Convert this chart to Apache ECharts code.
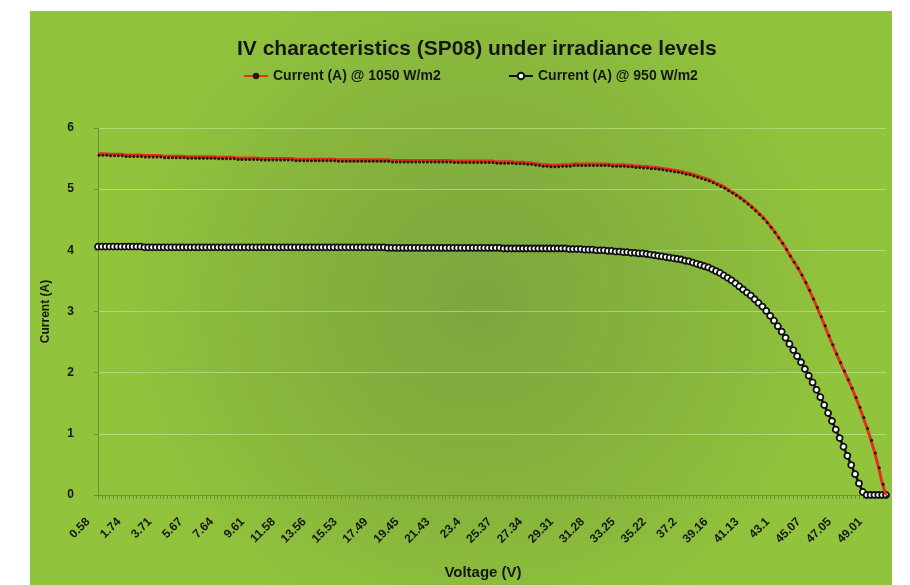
<!DOCTYPE html>
<html>
<head>
<meta charset="utf-8">
<script src="https://cdn.jsdelivr.net/npm/echarts@6/dist/echarts.min.js"></script>
<style>
html,body{margin:0;padding:0;background:#fff;}
#chart{width:910px;height:585px;}
</style>
</head>
<body>
<div id="chart"></div>
<script>
const chartTitle = 'IV characteristics (SP08) under irradiance levels';
const seriesNames = ['Current (A) @ 1050 W/m2', 'Current (A) @ 950 W/m2'];
const tickLabels = ['0.58','1.74','3.71','5.67','7.64','9.61','11.58','13.56','15.53','17.49','19.45','21.43','23.4','25.37','27.34','29.31','31.28','33.25','35.22','37.2','39.16','41.13','43.1','45.07','47.05','49.01'];
const voltage = [
'0.58','0.72','0.87','1.01','1.16','1.30','1.45','1.59',
'1.74','1.99','2.23','2.48','2.73','2.97','3.22','3.46',
'3.71','3.96','4.20','4.45','4.69','4.94','5.18','5.43',
'5.67','5.92','6.16','6.41','6.66','6.90','7.15','7.39',
'7.64','7.89','8.13','8.38','8.63','8.87','9.12','9.36',
'9.61','9.86','10.10','10.35','10.60','10.84','11.09','11.33',
'11.58','11.83','12.08','12.32','12.57','12.82','13.07','13.31',
'13.56','13.81','14.05','14.30','14.55','14.79','15.04','15.28',
'15.53','15.78','16.02','16.27','16.51','16.76','17.00','17.25',
'17.49','17.74','17.98','18.23','18.47','18.72','18.96','19.21',
'19.45','19.70','19.95','20.19','20.44','20.69','20.94','21.18',
'21.43','21.68','21.92','22.17','22.42','22.66','22.91','23.15',
'23.4','23.65','23.89','24.14','24.39','24.63','24.88','25.12',
'25.37','25.62','25.86','26.11','26.36','26.60','26.85','27.09',
'27.34','27.59','27.83','28.08','28.33','28.57','28.82','29.06',
'29.31','29.56','29.80','30.05','30.30','30.54','30.79','31.03',
'31.28','31.53','31.77','32.02','32.27','32.51','32.76','33.00',
'33.25','33.50','33.74','33.99','34.24','34.48','34.73','34.97',
'35.22','35.47','35.72','35.96','36.21','36.46','36.71','36.95',
'37.2','37.45','37.69','37.94','38.18','38.43','38.67','38.92',
'39.16','39.41','39.65','39.90','40.15','40.39','40.64','40.88',
'41.13','41.38','41.62','41.87','42.12','42.36','42.61','42.85',
'43.1','43.35','43.59','43.84','44.09','44.33','44.58','44.82',
'45.07','45.32','45.57','45.81','46.06','46.31','46.56','46.80',
'47.05','47.30','47.54','47.79','48.03','48.28','48.52','48.77',
'49.01','49.26','49.50','49.75','49.99'
];
const current1050 = [
5.58,5.58,5.58,5.57,5.57,5.57,5.57,5.56,5.56,5.56,
5.56,5.56,5.55,5.55,5.55,5.55,5.55,5.54,5.54,5.54,
5.54,5.54,5.54,5.53,5.53,5.53,5.53,5.53,5.53,5.53,
5.53,5.52,5.52,5.52,5.52,5.52,5.51,5.51,5.51,5.51,
5.51,5.51,5.50,5.50,5.50,5.50,5.50,5.50,5.50,5.50,
5.50,5.49,5.49,5.49,5.49,5.49,5.49,5.49,5.49,5.49,
5.49,5.49,5.48,5.48,5.48,5.48,5.48,5.48,5.48,5.48,
5.48,5.48,5.48,5.48,5.48,5.48,5.47,5.47,5.47,5.47,
5.47,5.47,5.47,5.47,5.47,5.47,5.47,5.47,5.47,5.47,
5.47,5.47,5.46,5.46,5.46,5.46,5.46,5.46,5.46,5.46,
5.46,5.46,5.46,5.45,5.45,5.45,5.45,5.45,5.44,5.44,
5.44,5.43,5.43,5.42,5.41,5.40,5.40,5.39,5.39,5.39,
5.40,5.40,5.40,5.41,5.41,5.41,5.41,5.41,5.41,5.41,
5.41,5.41,5.41,5.40,5.40,5.40,5.40,5.39,5.39,5.38,
5.38,5.37,5.37,5.36,5.36,5.35,5.34,5.33,5.32,5.31,
5.30,5.29,5.27,5.26,5.24,5.22,5.20,5.18,5.16,5.13,
5.10,5.07,5.04,5.00,4.96,4.92,4.88,4.83,4.78,4.73,
4.67,4.61,4.55,4.48,4.40,4.32,4.23,4.14,4.04,3.93,
3.83,3.73,3.62,3.50,3.37,3.23,3.09,2.94,2.79,2.63,
2.48,2.33,2.19,2.05,1.91,1.77,1.62,1.46,1.29,1.11,
0.92,0.71,0.47,0.20,0.00
];
const current950 = [
4.06,4.06,4.06,4.06,4.06,4.06,4.06,4.06,4.06,4.06,
4.06,4.06,4.05,4.05,4.05,4.05,4.05,4.05,4.05,4.05,
4.05,4.05,4.05,4.05,4.05,4.05,4.05,4.05,4.05,4.05,
4.05,4.05,4.05,4.05,4.05,4.05,4.05,4.05,4.05,4.05,
4.05,4.05,4.05,4.05,4.05,4.05,4.05,4.05,4.05,4.05,
4.05,4.05,4.05,4.05,4.05,4.05,4.05,4.05,4.05,4.05,
4.05,4.05,4.05,4.05,4.05,4.05,4.05,4.05,4.05,4.05,
4.05,4.05,4.05,4.05,4.05,4.04,4.04,4.04,4.04,4.04,
4.04,4.04,4.04,4.04,4.04,4.04,4.04,4.04,4.04,4.04,
4.04,4.04,4.04,4.04,4.04,4.04,4.04,4.04,4.04,4.04,
4.04,4.04,4.04,4.04,4.04,4.03,4.03,4.03,4.03,4.03,
4.03,4.03,4.03,4.03,4.03,4.03,4.03,4.03,4.03,4.03,
4.03,4.03,4.02,4.02,4.02,4.02,4.01,4.01,4.01,4.00,
4.00,4.00,3.99,3.99,3.98,3.98,3.97,3.97,3.96,3.96,
3.95,3.95,3.94,3.93,3.92,3.91,3.90,3.89,3.88,3.87,
3.86,3.85,3.83,3.82,3.80,3.78,3.76,3.74,3.72,3.69,
3.66,3.63,3.59,3.55,3.51,3.46,3.41,3.36,3.31,3.26,
3.20,3.14,3.08,3.01,2.93,2.85,2.76,2.67,2.57,2.47,
2.37,2.27,2.17,2.06,1.95,1.84,1.72,1.60,1.47,1.34,
1.21,1.07,0.93,0.79,0.64,0.49,0.34,0.19,0.05,0.00,
0.00,0.00,0.00,0.00,0.00
];
const yTicks = {min: 0, max: 6, interval: 1};

const FONT = 'Liberation Sans, Arial, sans-serif';
const TXT = '#161616';
const chart = echarts.init(document.getElementById('chart'), null, {renderer: 'canvas'});
chart.setOption({
  backgroundColor: '#ffffff',
  animation: false,
  graphic: [{
    type: 'rect', z: -10, silent: true,
    shape: {x: 30, y: 11, width: 862, height: 580},
    style: {
      fill: new echarts.graphic.RadialGradient(0.52, 0.5, 0.62, [
        {offset: 0, color: '#7ca63e'},
        {offset: 0.55, color: '#86b43d'},
        {offset: 1, color: '#91c33c'}
      ])
    }
  }],
  title: {
    text: chartTitle, left: 232, top: 34,
    textStyle: {fontFamily: FONT, fontSize: 21, fontWeight: 'bold', color: TXT}
  },
  legend: [
    {data: [seriesNames[0]], left: 238, top: 64, itemWidth: 24, itemHeight: 8, itemGap: 4,
     textStyle: {fontFamily: FONT, fontSize: 14, fontWeight: 'bold', color: TXT}},
    {data: [seriesNames[1]], left: 503, top: 64, itemWidth: 24, itemHeight: 8, itemGap: 4,
     textStyle: {fontFamily: FONT, fontSize: 14, fontWeight: 'bold', color: TXT}}
  ],
  grid: {left: 98, right: 24, top: 128, bottom: 84, containLabel: false},
  xAxis: {
    type: 'category', data: voltage, boundaryGap: false,
    name: 'Voltage (V)', nameLocation: 'middle', nameGap: 70,
    nameTextStyle: {fontFamily: FONT, fontSize: 15, fontWeight: 'bold', color: TXT, padding: [0, 18, 0, 0]},
    axisLine: {lineStyle: {color: '#6a942f', width: 1}},
    axisTick: {show: true, interval: 0, length: 4, lineStyle: {color: '#6a942f'}},
    axisLabel: {
      interval: 7, rotate: 45, margin: 15, padding: [0, 14, 0, 0],
      fontFamily: FONT, fontSize: 12, fontWeight: 'bold', color: TXT,
      formatter: function (v, i) { return (i % 8 === 0) ? tickLabels[i / 8] : ''; }
    },
    splitLine: {show: false}
  },
  yAxis: {
    type: 'value', min: yTicks.min, max: yTicks.max, interval: yTicks.interval,
    name: 'Current (A)', nameLocation: 'middle', nameGap: 46, nameRotate: 90,
    nameTextStyle: {fontFamily: FONT, fontSize: 12, fontWeight: 'bold', color: TXT},
    axisLine: {show: true, lineStyle: {color: '#6a942f', width: 1}},
    axisTick: {show: true, length: 4, lineStyle: {color: '#6a942f'}},
    axisLabel: {margin: 24, fontFamily: FONT, fontSize: 12, fontWeight: 'bold', color: TXT},
    splitLine: {show: true, lineStyle: {color: 'rgba(200,232,150,0.6)', width: 1}}
  },
  series: [
    {
      name: seriesNames[0], type: 'line', data: current1050,
      symbol: 'circle', symbolSize: 3, symbolOffset: [1, 1.5], showAllSymbol: true,
      lineStyle: {color: '#e2301c', width: 3},
      itemStyle: {color: '#2a160a'},
      z: 3
    },
    {
      name: seriesNames[1], type: 'line', data: current950,
      symbol: 'circle', symbolSize: 6, showAllSymbol: true,
      lineStyle: {color: '#111111', width: 2.5},
      itemStyle: {color: '#ffffff', borderColor: '#111111', borderWidth: 1.8},
      z: 2
    }
  ]
});
</script>
</body>
</html>
